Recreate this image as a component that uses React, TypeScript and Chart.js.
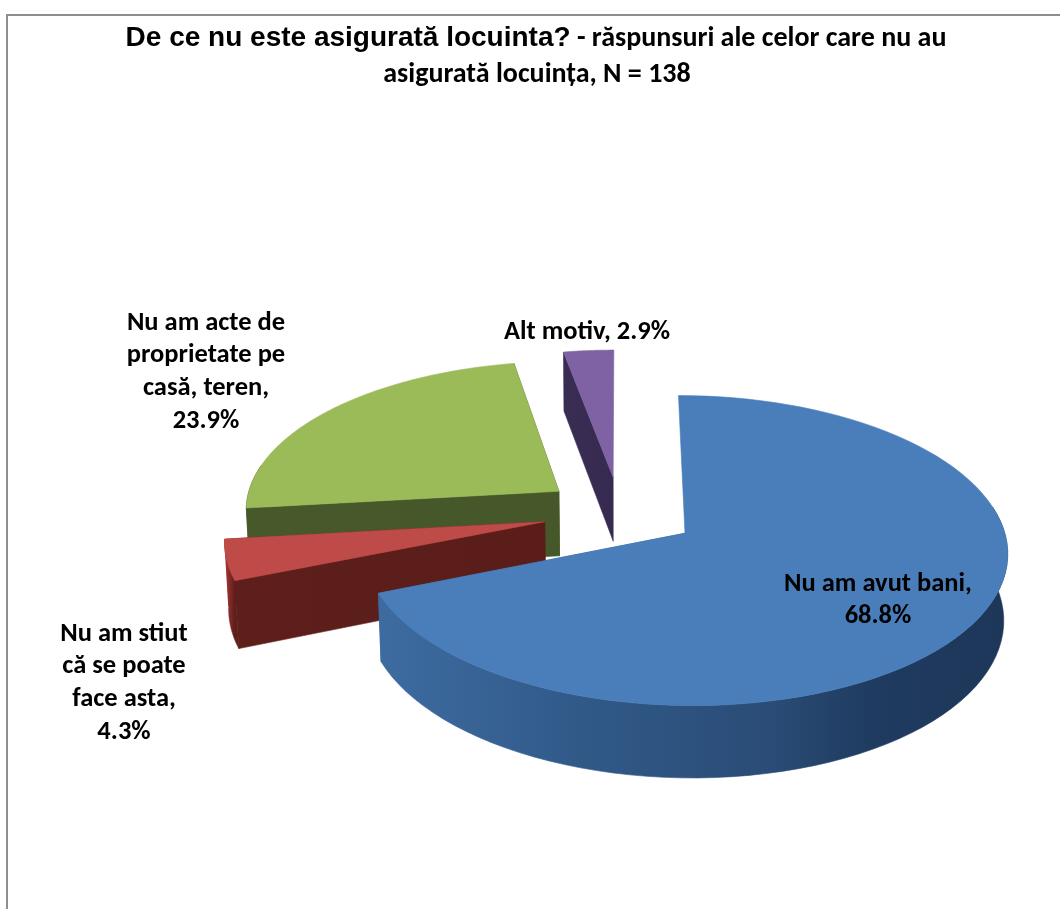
import React, { useEffect, useRef } from "react";
import { Chart, registerables } from "chart.js";

Chart.register(...registerables);

const categories = [
  "Nu am avut bani",
  "Nu am stiut că se poate face asta",
  "Nu am acte de proprietate pe casă, teren",
  "Alt motiv",
];
const values = [68.8, 4.3, 23.9, 2.9];
const topColors = ["#4a7ebb", "#bf4b48", "#9bbb59", "#7f62a3"];
const labelRows = [
  ["Nu am avut bani,", "{v}"],
  ["Nu am stiut", "că se poate", "face asta,", "{v}"],
  ["Nu am acte de", "proprietate pe", "casă, teren,", "{v}"],
  ["Alt motiv, {v}"],
];
const titleLine1Bold = "De ce nu este asigurată locuinta?";
const titleLine1Rest = " - răspunsuri ale celor care nu au";
const titleLine2 = "asigurată locuința, N = 138";

// Styling and layout of the drawing
const wallColors = [
  [[0, "#3d6ba0"], [0.3, "#315a89"], [0.62, "#2a4c76"], [0.78, "#1f3b60"], [1, "#1d3759"]],
  [[0, "#a83532"], [0.03, "#5e1f1c"], [1, "#5a1d1a"]],
  [[0, "#47582a"], [1, "#46582a"]],
  [[0, "#3a2d54"], [1, "#372a50"]],
];
const wallRanges = [[385, 1008], [225, 545], [247, 558], [564, 613]];
const labelAnchors = [
  { x: 878, y: 584 },
  { x: 124, y: 634 },
  { x: 206, y: 323 },
  { x: 587, y: 332 },
];
const LABEL_LINE = 32.7;
const SCALE_X = 1.05; // screen px per chart radius px
const SCALE_Y = 0.495;
const DEPTH = 66;
const PERSPECTIVE = 0.11;
const DEPTH_PERSPECTIVE = 0.01;
const RADIUS = 300;
const OFFSET = 73.5;

const pie3dPlugin = {
  id: "pie3d",
  beforeDraw(chart: any) {
    const { ctx } = chart;
    ctx.save();
    ctx.fillStyle = "#ffffff";
    ctx.fillRect(0, 0, chart.width, chart.height);
    ctx.strokeStyle = "#8e8e8e";
    ctx.lineWidth = 2;
    ctx.beginPath();
    ctx.moveTo(7, chart.height);
    ctx.lineTo(7, 15);
    ctx.lineTo(chart.width, 15);
    ctx.stroke();
    ctx.restore();
  },
  beforeDatasetsDraw(chart: any) {
    const { ctx } = chart;
    const meta = chart.getDatasetMeta(0);
    const els: any[] = meta.data;
    for (let i = els.length - 1; i >= 0; i--) {
      const el = els[i];
      const { x: cx, y: cy, startAngle, endAngle, outerRadius } = el.getProps(
        ["x", "y", "startAngle", "endAngle", "outerRadius"],
        true
      );
      const off = el.options.offset / outerRadius;
      const mid = (startAngle + endAngle) / 2;
      const ox = Math.cos(mid) * off;
      const oy = Math.sin(mid) * off;
      const project = (wx: number, wy: number, z: number) => {
        const X = wx + ox;
        const Y = wy + oy;
        const d = 1 - PERSPECTIVE * Y + DEPTH_PERSPECTIVE * z;
        return {
          x: cx + (SCALE_X * outerRadius * X) / d,
          y: cy + (SCALE_Y * outerRadius * Y + DEPTH * z) / d,
        };
      };
      const N = 90;
      const rim: [number, number][] = [];
      for (let k = 0; k <= N; k++) {
        const a = startAngle + ((endAngle - startAngle) * k) / N;
        rim.push([Math.cos(a), Math.sin(a)]);
      }
      const grad = ctx.createLinearGradient(wallRanges[i][0], 0, wallRanges[i][1], 0);
      wallColors[i].forEach(([p, c]: any) => grad.addColorStop(p, c));
      const poly = (pts: { x: number; y: number }[], fill: any) => {
        ctx.beginPath();
        pts.forEach((p, j) => (j ? ctx.lineTo(p.x, p.y) : ctx.moveTo(p.x, p.y)));
        ctx.closePath();
        ctx.fillStyle = fill;
        ctx.strokeStyle = fill;
        ctx.lineWidth = 0.6;
        ctx.fill();
        ctx.stroke();
      };
      // cut faces (near-vertical ones are seen edge-on and skipped)
      [rim[0], rim[N]].forEach(([wx, wy]) => {
        const a = project(0, 0, 0);
        const b = project(wx, wy, 0);
        if (Math.abs(a.x - b.x) < 10) return;
        poly([a, b, project(wx, wy, 1), project(0, 0, 1)], grad);
      });
      // outer wall: only the part that faces the viewer
      const visibleRim = rim.filter(([, wy]) => wy > -0.2);
      if (visibleRim.length > 1) {
        poly(
          [
            ...visibleRim.map(([wx, wy]) => project(wx, wy, 0)),
            ...visibleRim.slice().reverse().map(([wx, wy]) => project(wx, wy, 1)),
          ],
          grad
        );
      }
      // top surface
      poly(
        [project(0, 0, 0), ...rim.map(([wx, wy]) => project(wx, wy, 0))],
        el.options.backgroundColor
      );
    }
    return false;
  },
  afterDraw(chart: any) {
    const { ctx } = chart;
    ctx.save();
    ctx.fillStyle = "#000000";
    ctx.textBaseline = "middle";
    // title
    const big = "bold 28px 'Liberation Sans', Arial, sans-serif";
    const small = "bold 28px Carlito, Calibri, Lato, sans-serif";
    ctx.font = big;
    const w1 = ctx.measureText(titleLine1Bold).width;
    ctx.font = small;
    const w2 = ctx.measureText(titleLine1Rest).width;
    const left = 536 - (w1 + w2) / 2;
    ctx.textAlign = "left";
    ctx.font = big;
    ctx.fillText(titleLine1Bold, left, 38);
    ctx.font = small;
    ctx.fillText(titleLine1Rest, left + w1, 39);
    ctx.textAlign = "center";
    ctx.fillText(titleLine2, 537, 75);
    // data labels
    ctx.font = "bold 26.5px Carlito, Calibri, Lato, sans-serif";
    labelRows.forEach((rows, i) => {
      rows.forEach((r, j) => {
        const text = r.replace("{v}", `${values[i]}%`);
        ctx.fillText(text, labelAnchors[i].x, labelAnchors[i].y + j * LABEL_LINE);
      });
    });
    ctx.restore();
  },
};

export default function App() {
  const ref = useRef<HTMLCanvasElement | null>(null);
  useEffect(() => {
    const chart = new Chart(ref.current as HTMLCanvasElement, {
      type: "pie",
      data: {
        labels: categories,
        datasets: [
          {
            data: values,
            backgroundColor: topColors,
            borderWidth: 0,
            offset: OFFSET,
          },
        ],
      },
      options: {
        responsive: false,
        animation: false,
        radius: RADIUS,
        layout: { padding: { left: 180, top: 116.2, right: 0, bottom: 0 } },
        plugins: {
          legend: { display: false },
          title: { display: false },
          tooltip: { enabled: false },
        },
        events: [],
      },
      plugins: [pie3dPlugin],
    } as any);
    return () => chart.destroy();
  }, []);
  return (
    <div style={{ position: "absolute", left: 0, top: 0, width: 1060, height: 909, overflow: "hidden" }}>
      <canvas ref={ref} width={1060} height={909} style={{ display: "block" }} />
    </div>
  );
}
